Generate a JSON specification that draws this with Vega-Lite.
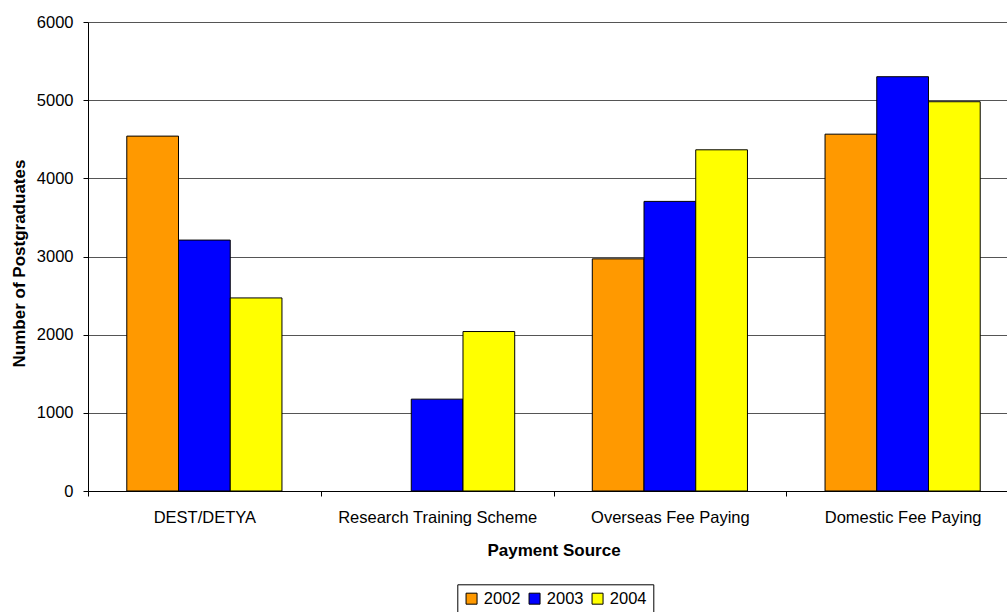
{
  "$schema": "https://vega.github.io/schema/vega-lite/v6.json",
  "width": 919,
  "height": 469,
  "autosize": {"type": "none"},
  "padding": {"left": 88, "top": 22, "right": 0, "bottom": 121},
  "background": "white",
  "config": {
    "view": {"stroke": null},
    "font": "Liberation Sans"
  },
  "data": {
    "values": [
      {"source": "DEST/DETYA", "year": "2002", "count": 4540},
      {"source": "DEST/DETYA", "year": "2003", "count": 3210},
      {"source": "DEST/DETYA", "year": "2004", "count": 2470},
      {"source": "Research Training Scheme", "year": "2003", "count": 1175},
      {"source": "Research Training Scheme", "year": "2004", "count": 2040},
      {"source": "Overseas Fee Paying", "year": "2002", "count": 2970},
      {"source": "Overseas Fee Paying", "year": "2003", "count": 3705},
      {"source": "Overseas Fee Paying", "year": "2004", "count": 4365},
      {"source": "Domestic Fee Paying", "year": "2002", "count": 4565},
      {"source": "Domestic Fee Paying", "year": "2003", "count": 5300},
      {"source": "Domestic Fee Paying", "year": "2004", "count": 4980}
    ]
  },
  "mark": {"type": "bar", "stroke": "black", "strokeWidth": 1},
  "encoding": {
    "x": {
      "field": "source",
      "type": "nominal",
      "sort": ["DEST/DETYA", "Research Training Scheme", "Overseas Fee Paying", "Domestic Fee Paying"],
      "scale": {"range": [0, 931], "paddingInner": 0, "paddingOuter": 0},
      "title": "Payment Source",
      "axis": {
        "labelAngle": 0,
        "labelFontSize": 16.5,
        "labelColor": "black",
        "labelPadding": 13,
        "labelLimit": 0,
        "tickSize": 5,
        "tickBand": "extent",
        "tickColor": "black",
        "domainColor": "black",
        "grid": false,
        "titleFontSize": 17,
        "titleFontWeight": "bold",
        "titleColor": "black",
        "titleBaseline": "alphabetic",
        "titleY": 64
      }
    },
    "xOffset": {
      "field": "year",
      "type": "nominal",
      "sort": ["2002", "2003", "2004"],
      "scale": {"paddingInner": 0, "paddingOuter": 0.75}
    },
    "y": {
      "field": "count",
      "type": "quantitative",
      "scale": {"domain": [0, 6000], "nice": false},
      "title": "Number of Postgraduates",
      "axis": {
        "values": [0, 1000, 2000, 3000, 4000, 5000, 6000],
        "format": "d",
        "labelFontSize": 16.5,
        "labelColor": "black",
        "labelPadding": 10,
        "tickSize": 5,
        "tickColor": "black",
        "domainColor": "black",
        "grid": true,
        "gridColor": "#555555",
        "gridOpacity": 1,
        "titleFontSize": 17,
        "titleFontWeight": "bold",
        "titleColor": "black",
        "titleBaseline": "alphabetic",
        "titleX": -64,
        "titleY": 241
      }
    },
    "fill": {
      "field": "year",
      "type": "nominal",
      "scale": {"domain": ["2002", "2003", "2004"], "range": ["#FF9900", "#0000FF", "#FFFF00"]},
      "legend": {
        "title": null,
        "orient": "none",
        "direction": "horizontal",
        "legendX": 369.3,
        "legendY": 562.3,
        "padding": 6,
        "strokeColor": "black",
        "fillColor": "white",
        "cornerRadius": 0,
        "symbolType": "square",
        "symbolSize": 121,
        "symbolStrokeColor": "black",
        "symbolStrokeWidth": 1,
        "labelFontSize": 16.5,
        "labelColor": "black",
        "labelOffset": 4,
        "columnPadding": 5
      }
    }
  }
}
